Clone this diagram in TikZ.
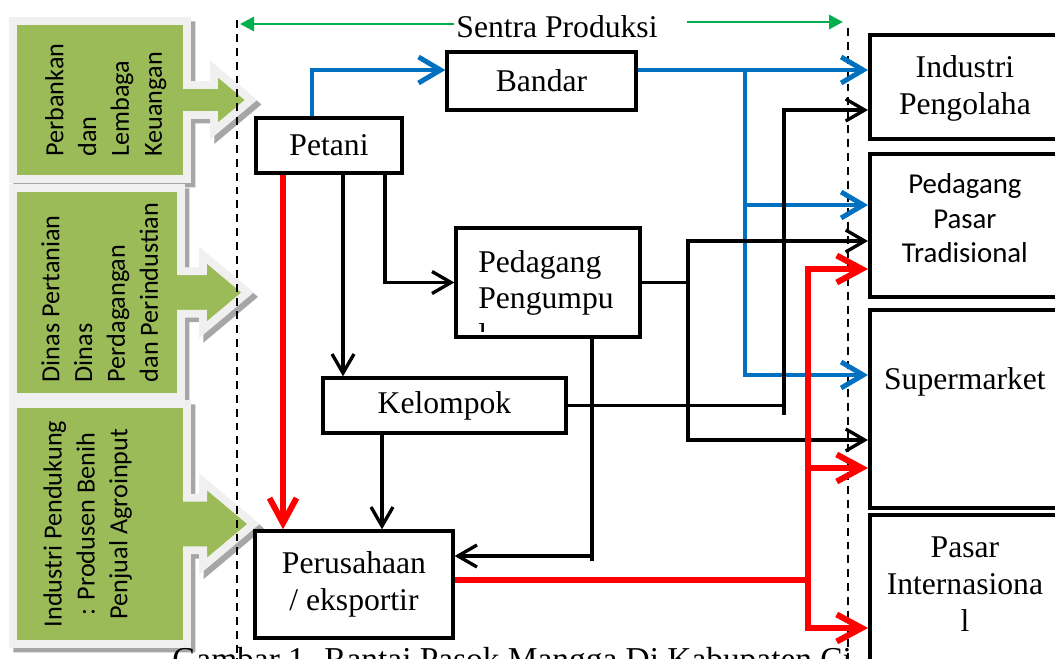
\documentclass[tikz,border=0pt]{standalone}
\usepackage{fontspec}
\setmainfont{Liberation Serif}
\newfontfamily\calibri{Carlito}
\usetikzlibrary{arrows.meta,shapes.arrows,shadows}

\definecolor{leafgreen}{HTML}{9BBB59}
\definecolor{chainblue}{HTML}{0070C0}
\definecolor{chainred}{HTML}{FF0000}
\definecolor{zonegreen}{HTML}{00B050}

\newcommand{\stacktop}[1]{\begin{tabular}[t]{@{}c@{}}#1\end{tabular}}
\newcommand{\sidetext}[2]{\rotatebox{90}{\begin{tabular}{@{}#1@{}}#2\end{tabular}}}

\begin{document}
\begin{tikzpicture}[
  x=0.02cm, y=-0.02cm,
  font=\fontsize{18}{21}\selectfont,
  every node/.style={align=center},
  actor/.style  ={draw, line width=1.9pt, fill=white, inner sep=0pt},
  market/.style ={draw, line width=2.2pt, fill=white, inner sep=0pt,
                  anchor=north west, minimum width=3.8cm},
  support/.style={shape=arrow box, fill=leafgreen, draw=black!6, line width=4.5pt,
                  inner sep=0pt, arrow box head extend=0.32cm, arrow box tip angle=80,
                  font=\calibri\fontsize{14.9}{18.7}\selectfont,
                  drop shadow={shadow xshift=2.5pt, shadow yshift=-2.5pt, opacity=1,
                               fill=black!35, draw=black!35}},
  link/.style    ={line width=1.9pt},
  redlink/.style ={line width=3.4pt, draw=chainred},
  flow/.style    ={-{Straight Barb[length=3.8mm, width=4.4mm]}, line width=1.9pt},
  blueflow/.style={-{Straight Barb[length=4.4mm, width=5.2mm]}, line width=2.8pt, draw=chainblue},
  redflow/.style ={-{Straight Barb[length=5mm, width=5.4mm]}, line width=3.4pt, draw=chainred},
  zone/.style    ={line width=0.8pt, dash pattern=on 4.5pt off 3.4pt},
  zoneflow/.style={-{Triangle[length=2.8mm, width=2.8mm]}, line width=1.7pt, draw=zonegreen},
]
\clip (0,0) rectangle (1055,659);

% supporting institutions
\node[support, minimum width=3.48cm, minimum height=3.16cm,
      arrow box arrows={east:1.2cm}, arrow box shaft width=0.6cm] (bank) at (100,100)
  {\hspace*{0.24cm}\sidetext{l}{Perbankan\\dan\\Lembaga\\Keuangan}};
\node[support, minimum width=3.36cm, minimum height=4.18cm,
      arrow box arrows={east:1.25cm}, arrow box shaft width=0.85cm] (dinas) at (97,292.5)
  {\hspace*{0.2cm}\sidetext{l}{Dinas Pertanian\\Dinas\\Perdagangan\\dan Perindustian}};
\node[support, minimum width=3.48cm, minimum height=4.8cm,
      arrow box arrows={east:1.25cm}, arrow box shaft width=1.05cm] (pendukung) at (100,524)
  {\sidetext{c}{Industri Pendukung\\: Produsen Benih\\Penjual Agroinput}\hspace*{0.48cm}};

% production zone
\draw[zone] (237,20) -- (237,659);
\draw[zone] (848,28) -- (848,659);
\node[inner sep=1pt] (sentra) at (557,27) {Sentra Produksi};
\coordinate (zoneleft) at (240,24);
\coordinate (zonestart) at (687,22);
\coordinate (zoneright) at (843,22);
\draw[zoneflow] (sentra.west |- zoneleft) -- (zoneleft);
\draw[zoneflow] (zonestart) -- (zoneright);

% actors
\node[actor, minimum width=3.78cm, minimum height=1.16cm] (bandar) at (541.5,81) {Bandar};
\node[actor, minimum width=2.92cm, minimum height=1.10cm] (petani) at (329,145.5) {Petani};
\node[actor, minimum width=3.68cm, minimum height=2.18cm] (pengumpul) at (548,282.5) {};
\begin{scope}
  \clip ([shift={(4,4)}]pengumpul.north west) rectangle ([shift={(-4,-7)}]pengumpul.south east);
  \node[anchor=base west, inner sep=0pt] (pengumpultext) at (478,272)
    {\begin{tabular}[t]{@{}l@{}}Pedagang\\Pengumpu\\l\end{tabular}};
\end{scope}
\node[actor, minimum width=4.86cm, minimum height=1.10cm] (kelompok) at (444.5,405.5) {Kelompok};
\node[actor, minimum width=3.96cm, minimum height=2.14cm] (perusahaan) at (354,584.5)
  {Perusahaan\\/ eksportir};

\node[anchor=base west, inner sep=0pt, font=\fontsize{19}{22}\selectfont] (caption) at (172,670)
  {Gambar 1. Rantai Pasok Mangga Di Kabupaten Ci};

% markets
\node[market, text height=0.85cm, text depth=1.23cm] (industri) at (868,33)
  {\stacktop{Industri\\Pengolaha}};
\node[market, font=\calibri\fontsize{16.4}{19.6}\selectfont,
      text height=0.80cm, text depth=2.06cm] (pedpasar) at (868,152)
  {\stacktop{Pedagang\\Pasar\\Tradisional}};
\node[market, text height=1.59cm, text depth=2.37cm] (supermarket) at (868,308)
  {\stacktop{Supermarket}};
\node[market, text height=0.85cm, text depth=3cm] (pasar) at (868,513)
  {\stacktop{Pasar\\Internasiona\\l}};

% blue chain
\coordinate (bluesplit) at (745,70);
\draw[blueflow] (petani.north -| 312,0) |- (bandar.west |- bluesplit);
\draw[blueflow] (bandar.east |- bluesplit) -- (industri.west |- bluesplit);
\draw[blueflow] (bluesplit) |- (pedpasar.west |- 0,205);
\draw[blueflow] (bluesplit) |- (supermarket.west |- 0,375);

% black chain
\draw[flow] (petani.south -| 343,0) -- (kelompok.north -| 343,0);
\draw[flow] (petani.south -| 385,0) |- (pengumpul.west);
\draw[flow] (kelompok.south -| 382,0) -- (perusahaan.north -| 382,0);
\coordinate (traderdrop) at (592,556);
\draw[link] (pengumpul.south -| traderdrop) -- (traderdrop) -- ++(0,5);
\draw[flow] (traderdrop) -- (perusahaan.east |- traderdrop);
\coordinate (tradersplit) at (pengumpul.east -| 688,0);
\draw[link] (pengumpul.east) -- (tradersplit);
\draw[flow] (tradersplit) |- (pedpasar.west |- 0,241);
\draw[flow] (tradersplit) |- (supermarket.west |- 0,440);
\coordinate (groupsplit) at (kelompok.east -| 784,0);
\draw[link] (kelompok.east) -- (groupsplit) -- ++(0,9);
\draw[flow] (groupsplit) |- (industri.west |- 0,110);

% red chain
\draw[redflow] (petani.south -| 283,0) -- (perusahaan.north -| 283,0);
\coordinate (exportsplit) at (808,580);
\draw[redlink] (perusahaan.east |- exportsplit) -- (exportsplit);
\draw[redflow] (exportsplit) |- (pedpasar.west |- 0,269);
\draw[redflow] (exportsplit) |- (supermarket.west |- 0,468);
\draw[redflow] (exportsplit) |- (pasar.west |- 0,628);

\end{tikzpicture}
\end{document}
